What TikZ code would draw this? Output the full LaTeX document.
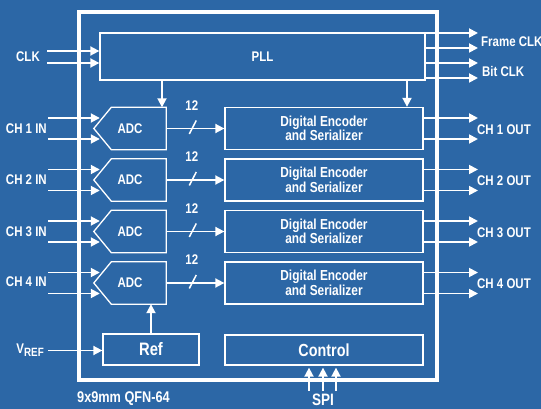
\documentclass[tikz,border=0pt]{standalone}
\usepackage{fontspec}
\setmainfont{Liberation Sans}[FakeStretch=0.82]
\usetikzlibrary{arrows.meta}
\definecolor{chipblue}{RGB}{44,103,166}

\begin{document}
\begin{tikzpicture}[x=1pt,y=-1pt]
\tikzset{
  blockbox/.style={draw=white,line width=1.3pt,inner sep=0pt,text=white,align=center,font=\fontsize{14.5}{12.5}\selectfont\bfseries},
  adcbox/.style={inner sep=0pt,minimum width=72pt,minimum height=42pt,text=white,font=\fontsize{14}{14}\selectfont\bfseries},
  adcline/.style={draw=white,line width=1.3pt,line join=miter},
  chipframe/.style={draw=white,line width=3.6pt,inner sep=0pt,minimum width=358pt,minimum height=368pt},
  pinlabel/.style={text=white,inner sep=0pt,font=\fontsize{14}{14}\selectfont\bfseries},
  biglabel/.style={text=white,inner sep=0pt,font=\fontsize{16.5}{16.5}\selectfont\bfseries},
  directed/.style={-{Triangle[length=9pt,width=9pt]},draw=white,line width=1.8pt},
  buswidth/.style={draw=white,line width=1.5pt}
}
\fill[chipblue] (0,0) rectangle (541,409);
\useasboundingbox (0,0) rectangle (541,409);

% chip outline
\node[chipframe] (n_chip) at (258,196) {};

% blocks
\node[blockbox,minimum width=325pt,minimum height=47pt,font=\fontsize{14}{14}\selectfont\bfseries] (n_pll) at (262.5,56.5) {PLL};
\node[adcbox] (n_adc_1) at (130,128.5) {ADC};
\node[adcbox] (n_adc_2) at (130,180) {ADC};
\node[adcbox] (n_adc_3) at (130,231.5) {ADC};
\node[adcbox] (n_adc_4) at (130,283) {ADC};
\draw[adcline] (n_adc_1.north east) -- ([xshift=17.5pt]n_adc_1.north west) -- (n_adc_1.west) -- ([xshift=17.5pt]n_adc_1.south west) -- (n_adc_1.south east) -- cycle;
\draw[adcline] (n_adc_2.north east) -- ([xshift=17.5pt]n_adc_2.north west) -- (n_adc_2.west) -- ([xshift=17.5pt]n_adc_2.south west) -- (n_adc_2.south east) -- cycle;
\draw[adcline] (n_adc_3.north east) -- ([xshift=17.5pt]n_adc_3.north west) -- (n_adc_3.west) -- ([xshift=17.5pt]n_adc_3.south west) -- (n_adc_3.south east) -- cycle;
\draw[adcline] (n_adc_4.north east) -- ([xshift=17.5pt]n_adc_4.north west) -- (n_adc_4.west) -- ([xshift=17.5pt]n_adc_4.south west) -- (n_adc_4.south east) -- cycle;
\node[blockbox,minimum width=198pt,minimum height=42pt] (n_enc_1) at (324,128.5) {Digital Encoder\\and Serializer};
\node[blockbox,minimum width=198pt,minimum height=42pt] (n_enc_2) at (324,180) {Digital Encoder\\and Serializer};
\node[blockbox,minimum width=198pt,minimum height=42pt] (n_enc_3) at (324,231.5) {Digital Encoder\\and Serializer};
\node[blockbox,minimum width=198pt,minimum height=42pt] (n_enc_4) at (324,283) {Digital Encoder\\and Serializer};
\node[blockbox,minimum width=96pt,minimum height=31pt,font=\fontsize{18}{18}\selectfont\bfseries] (n_ref) at (151,349.5) {Ref};
\node[blockbox,minimum width=198pt,minimum height=30pt,font=\fontsize{17.5}{17.5}\selectfont\bfseries] (n_ctrl) at (324,350) {Control};

% pin labels
\node[pinlabel] (n_clk) at (28,57) {CLK};
\node[pinlabel,anchor=east] (n_in_1) at (47,128.5) {CH 1 IN};
\node[pinlabel,anchor=east] (n_in_2) at (47,180) {CH 2 IN};
\node[pinlabel,anchor=east] (n_in_3) at (47,231.5) {CH 3 IN};
\node[pinlabel,anchor=east] (n_in_4) at (47,282) {CH 4 IN};
\node[pinlabel,anchor=east] (n_vref) at (44,350.5) {V\raisebox{-3pt}{\fontsize{12}{12}\selectfont REF}};
\node[pinlabel,anchor=west] (n_fclk) at (481,42) {Frame CLK};
\node[pinlabel,anchor=west] (n_bclk) at (482,71) {Bit CLK};
\node[pinlabel,anchor=west] (n_out_1) at (477,129.5) {CH 1 OUT};
\node[pinlabel,anchor=west] (n_out_2) at (477,181) {CH 2 OUT};
\node[pinlabel,anchor=west] (n_out_3) at (477,232.5) {CH 3 OUT};
\node[pinlabel,anchor=west] (n_out_4) at (477,284) {CH 4 OUT};
\node[pinlabel,anchor=west,font=\fontsize{15.5}{15.5}\selectfont\bfseries] (n_pkg) at (77,399) {9x9mm QFN-64};
\node[biglabel] (n_spi) at (323,400) {SPI};

% pin ends
\coordinate (clk_a) at (47,51);
\coordinate (clk_b) at (47,63);
\coordinate (in_1a) at (48,118);
\coordinate (in_1b) at (48,139);
\coordinate (in_2a) at (48,169.5);
\coordinate (in_2b) at (48,190.5);
\coordinate (in_3a) at (48,221);
\coordinate (in_3b) at (48,242);
\coordinate (in_4a) at (48,272.5);
\coordinate (in_4b) at (48,293.5);
\coordinate (fclk_a) at (478,33);
\coordinate (fclk_b) at (478,48);
\coordinate (bclk_a) at (478,63);
\coordinate (bclk_b) at (478,78);
\coordinate (out_1a) at (478,118);
\coordinate (out_1b) at (478,139);
\coordinate (out_2a) at (478,169.5);
\coordinate (out_2b) at (478,190.5);
\coordinate (out_3a) at (478,221);
\coordinate (out_3b) at (478,242);
\coordinate (out_4a) at (478,272.5);
\coordinate (out_4b) at (478,293.5);
\coordinate (pd_1) at (162,0);
\coordinate (pd_2) at (407,0);
\coordinate (spi_1) at (309,391);
\coordinate (spi_2) at (323,391);
\coordinate (spi_3) at (336,391);

% clocks
\draw[directed] (clk_a) -- (clk_a -| n_pll.west);
\draw[directed] (clk_b) -- (clk_b -| n_pll.west);
\draw[directed] (n_pll.east |- fclk_a) -- (fclk_a);
\draw[directed] (n_pll.east |- fclk_b) -- (fclk_b);
\draw[directed] (n_pll.east |- bclk_a) -- (bclk_a);
\draw[directed] (n_pll.east |- bclk_b) -- (bclk_b);
\draw[directed] (n_pll.south -| pd_1) -- (n_adc_1.north -| pd_1);
\draw[directed] (n_pll.south -| pd_2) -- (n_enc_1.north -| pd_2);

% analog inputs
\draw[directed,shorten >=-6pt] (in_1a) -- (in_1a -| n_adc_1.west);
\draw[directed,shorten >=-6pt] (in_1b) -- (in_1b -| n_adc_1.west);
\draw[directed,shorten >=-6pt] (in_2a) -- (in_2a -| n_adc_2.west);
\draw[directed,shorten >=-6pt] (in_2b) -- (in_2b -| n_adc_2.west);
\draw[directed,shorten >=-6pt] (in_3a) -- (in_3a -| n_adc_3.west);
\draw[directed,shorten >=-6pt] (in_3b) -- (in_3b -| n_adc_3.west);
\draw[directed,shorten >=-6pt] (in_4a) -- (in_4a -| n_adc_4.west);
\draw[directed,shorten >=-6pt] (in_4b) -- (in_4b -| n_adc_4.west);

% 12 bit buses
\draw[directed] (n_adc_1.east) -- coordinate[midway] (b_1) (n_enc_1.west);
\draw[directed] (n_adc_2.east) -- coordinate[midway] (b_2) (n_enc_2.west);
\draw[directed] (n_adc_3.east) -- coordinate[midway] (b_3) (n_enc_3.west);
\draw[directed] (n_adc_4.east) -- coordinate[midway] (b_4) (n_enc_4.west);
\draw[buswidth] ([shift={(-6,5.5)}]b_1) -- ([shift={(1,-8)}]b_1);
\draw[buswidth] ([shift={(-6,5.5)}]b_2) -- ([shift={(1,-8)}]b_2);
\draw[buswidth] ([shift={(-6,5.5)}]b_3) -- ([shift={(1,-8)}]b_3);
\draw[buswidth] ([shift={(-6,5.5)}]b_4) -- ([shift={(1,-8)}]b_4);
\node[pinlabel] (n_bw_1) at ([shift={(-3.5,-23)}]b_1) {12};
\node[pinlabel] (n_bw_2) at ([shift={(-3.5,-23)}]b_2) {12};
\node[pinlabel] (n_bw_3) at ([shift={(-3.5,-23)}]b_3) {12};
\node[pinlabel] (n_bw_4) at ([shift={(-3.5,-23)}]b_4) {12};

% serial outputs
\draw[directed] (n_enc_1.east |- out_1a) -- (out_1a);
\draw[directed] (n_enc_1.east |- out_1b) -- (out_1b);
\draw[directed] (n_enc_2.east |- out_2a) -- (out_2a);
\draw[directed] (n_enc_2.east |- out_2b) -- (out_2b);
\draw[directed] (n_enc_3.east |- out_3a) -- (out_3a);
\draw[directed] (n_enc_3.east |- out_3b) -- (out_3b);
\draw[directed] (n_enc_4.east |- out_4a) -- (out_4a);
\draw[directed] (n_enc_4.east |- out_4b) -- (out_4b);

% reference and control
\draw[directed,shorten <=4pt] (n_vref.east) -- (n_vref.east -| n_ref.west);
\draw[directed] (n_ref.north) -- (n_adc_4.south -| n_ref.north);
\draw[directed,shorten >=2pt] (spi_1) -- (spi_1 |- n_ctrl.south);
\draw[directed,shorten >=2pt] (spi_2) -- (spi_2 |- n_ctrl.south);
\draw[directed,shorten >=2pt] (spi_3) -- (spi_3 |- n_ctrl.south);
\end{tikzpicture}
\end{document}
